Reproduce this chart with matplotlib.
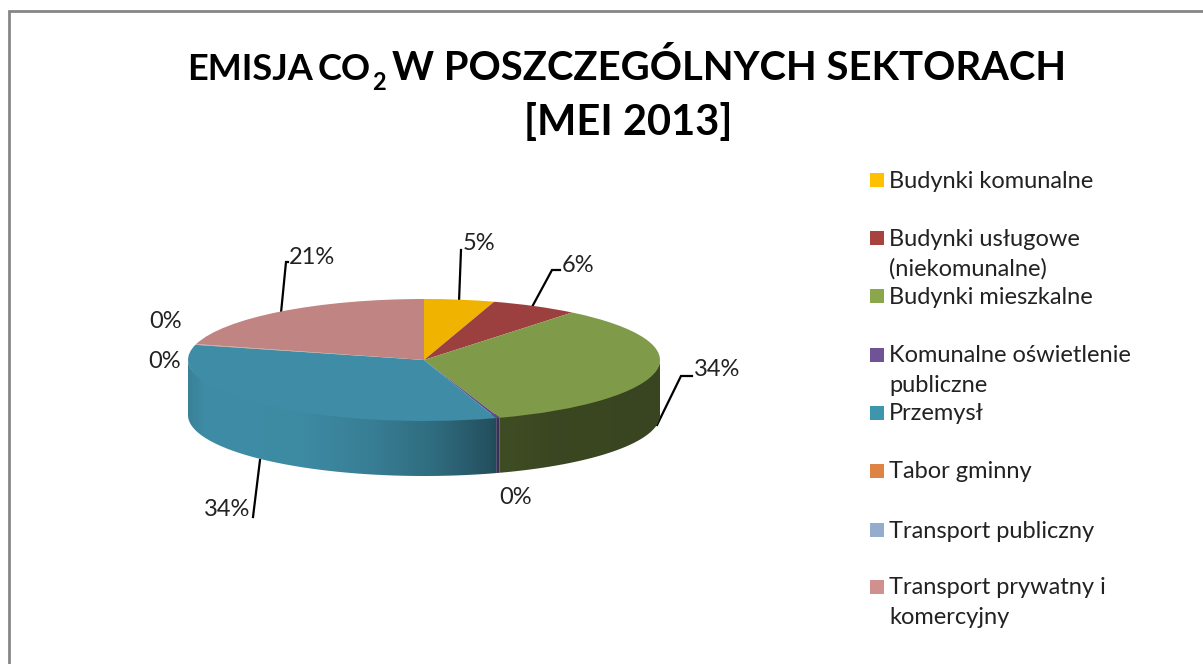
import numpy as np
import matplotlib
matplotlib.use("Agg")
import matplotlib.pyplot as plt
from matplotlib.colors import to_rgb
from matplotlib.patches import Rectangle, Polygon

categories = ["Budynki komunalne", "Budynki usługowe\n(niekomunalne)", "Budynki mieszkalne",
	"Komunalne oświetlenie\npubliczne", "Przemysł", "Tabor gminny", "Transport publiczny",
	"Transport prywatny i\nkomercyjny"]
shares = [4.8, 6.0, 34.0, 0.25, 33.95, 0.1, 0.1, 20.8]

top_colors = ["#F0B400", "#9C403F", "#7F9A48", "#5F4B8B", "#3E8CA5", "#D9803C", "#8EA6CC", "#C08583"]
legend_colors = ["#FFC000", "#A8423F", "#8AA84B", "#6F5396", "#3D96AE", "#DE8344", "#95ACCF", "#D09090"]
# side wall brightness across the picture: pixel x, factor on the slice colour
wall_x = [188, 205, 300, 370, 430, 490, 500, 550, 660]
wall_f = [0.92, 1.0, 0.99, 0.9, 0.78, 0.58, 0.5, 0.46, 0.45]

# text, x, baseline y, size: the parts are placed one by one to follow the reference widths
title_parts = [("EMISJA", 187, 80, 26), ("CO", 318, 80, 26), ("2", 372, 90, 17),
	("W POSZCZEGÓLNYCH SEKTORACH", 392, 80, 28.8)]
title_line2 = "[MEI 2013]"

# label position and leader path, in pixels of the picture
label_pos = [(479, 243), (578, 266), (717, 369), (516, 497), (227, 510), (165, 361), (166, 322), (312, 258)]
leaders = [[(459, 302), (461, 250)],
	[(532, 307), (552, 270), (560, 270)],
	[(657, 425), (681, 376), (692, 376)],
	None,
	[(260, 460), (253, 517)],
	None,
	None,
	[(281, 313), (286, 262), (288, 262)]]
legend_y = [181, 239, 297, 356, 414, 472, 531, 588]

W, H = 1203, 664
fig = plt.figure(figsize=(W / 100, H / 100), dpi=100, facecolor="white")
plt.rcParams["font.family"] = ["Lato", "DejaVu Sans"]

bg = fig.add_axes([0, 0, 1, 1], zorder=0)
bg.set_xlim(0, W)
bg.set_ylim(H, 0)
bg.axis("off")
bg.plot([8.7, 8.7, W], [H, 11.3, 11.3], color="#868686", lw=2, solid_joinstyle="miter")

# pie, the axes also hold the side wall below it
cx, cy, rx, ry, depth = 424, 360, 236, 61, 55
pie_ax = fig.add_axes([(cx - rx) / W, 1 - (cy + ry + depth) / H, 2 * rx / W, (2 * ry + depth) / H], zorder=1)
wedges, _ = pie_ax.pie(shares, colors=top_colors, startangle=90, counterclock=False,
	wedgeprops={"linewidth": 0})
d = depth / ry
for w in wedges:
	w.set_zorder(5)

ends = np.cumsum([0] + shares)
for i in range(len(shares)):
	a1 = max(90 - 3.6 * ends[i + 1], -180)
	a2 = min(90 - 3.6 * ends[i], 0)
	if a2 <= a1:
		continue
	t = np.radians(np.linspace(a2, a1, 200))
	# upper edge runs a little inside the top face so no seam shows under the wedge
	outline = np.vstack([np.column_stack([np.cos(t), 0.93 * np.sin(t)]),
		np.column_stack([np.cos(t[::-1]), np.sin(t[::-1]) - d])])
	x0, x1 = np.cos(t).min(), np.cos(t).max()
	xs = np.linspace(x0, x1, 300)
	f = np.interp(cx + xs * rx, wall_x, wall_f)
	if i == 3:
		f = np.full_like(xs, 0.62)
	grad = np.clip(np.outer(f, to_rgb(top_colors[i])), 0, 1)[None, :, :]
	im = pie_ax.imshow(grad, extent=[x0, x1, -1 - d, 1], aspect="auto", zorder=3, interpolation="bilinear")
	im.set_clip_path(Polygon(outline, transform=pie_ax.transData))
pie_ax.set_aspect("auto")
pie_ax.set_xlim(-1, 1)
pie_ax.set_ylim(-1 - d, 1)

# data labels and leaders
for i in range(len(shares)):
	if leaders[i]:
		lx, ly = zip(*leaders[i])
		bg.plot(lx, ly, color="black", lw=1.6, solid_joinstyle="miter")
	bg.text(label_pos[i][0], label_pos[i][1], "%.0f%%" % shares[i], fontsize=17,
		color="#222222", ha="center", va="center")

# legend
for i, name in enumerate(categories):
	bg.add_patch(Rectangle((870, legend_y[i] - 8), 14, 14, facecolor=legend_colors[i], edgecolor="none"))
	for k, line in enumerate(name.split("\n")):
		bg.text(889, legend_y[i] + 30 * k, line, fontsize=17, color="#222222", va="center", ha="left")

# title
for text, tx, ty, size in title_parts:
	bg.text(tx, ty, text, fontsize=size, fontweight="bold", color="black", ha="left", va="baseline")
bg.text(628, 135, title_line2, fontsize=30, fontweight="bold", color="black", ha="center", va="baseline")

fig.savefig("out.png", dpi=100)
